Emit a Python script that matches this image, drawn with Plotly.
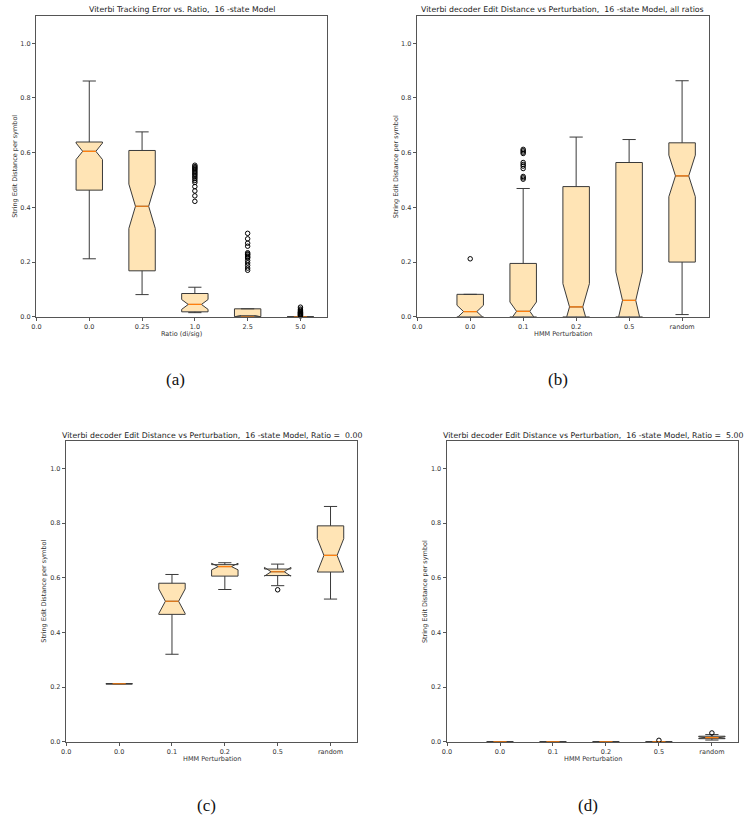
import plotly.graph_objects as go

# ---------------- data ----------------
a_labels = ["0.0", "0.0", "0.25", "1.0", "2.5", "5.0"]
p_labels = ["0.0", "0.0", "0.1", "0.2", "0.5", "random"]

a_q1 = [0.463, 0.168, 0.018, 0.0, 0.0]
a_med = [0.605, 0.404, 0.045, 0.0, 0.0]
a_q3 = [0.639, 0.608, 0.085, 0.029, 0.0]
a_lo = [0.212, 0.081, 0.015, 0.0, 0.0]
a_hi = [0.862, 0.676, 0.108, 0.029, 0.0]
a_notch = [0.03, 0.081, 0.018, 0.0, 0.0]
a_out = [[], [],
         [0.554, 0.549, 0.545, 0.541, 0.537, 0.532, 0.527, 0.522, 0.517, 0.511,
          0.505, 0.498, 0.491, 0.476, 0.46, 0.442, 0.422],
         [0.305, 0.285, 0.269, 0.258, 0.234, 0.23, 0.227, 0.222, 0.218, 0.215,
          0.206, 0.197, 0.188, 0.178, 0.17],
         [0.035, 0.028, 0.024, 0.02, 0.017, 0.015, 0.013, 0.011, 0.009, 0.007,
          0.005, 0.003]]

b_q1 = [0.0, 0.0, 0.0, 0.0, 0.2]
b_med = [0.019, 0.02, 0.036, 0.06, 0.515]
b_q3 = [0.082, 0.195, 0.476, 0.564, 0.636]
b_lo = [0.0, 0.0, 0.0, 0.0, 0.008]
b_hi = [0.082, 0.469, 0.657, 0.648, 0.863]
b_notch = [0.023, 0.034, 0.085, 0.104, 0.076]
b_out = [[0.212],
         [0.612, 0.607, 0.602, 0.597, 0.564, 0.557, 0.551, 0.542, 0.513, 0.508, 0.503],
         [], [], []]

c_q1 = [0.212, 0.466, 0.606, 0.608, 0.621]
c_med = [0.212, 0.514, 0.641, 0.622, 0.682]
c_q3 = [0.212, 0.58, 0.648, 0.632, 0.79]
c_lo = [0.212, 0.32, 0.557, 0.571, 0.522]
c_hi = [0.212, 0.612, 0.655, 0.65, 0.861]
c_notch = [0.0, 0.045, 0.012, 0.016, 0.061]
c_out = [[], [], [], [0.556], []]

d_q1 = [0.0, 0.0, 0.0, 0.0, 0.011]
d_med = [0.0, 0.0, 0.0, 0.0, 0.015]
d_q3 = [0.0, 0.0, 0.0, 0.0, 0.02]
d_lo = [0.0, 0.0, 0.0, 0.0, 0.006]
d_hi = [0.0, 0.0, 0.0, 0.0, 0.026]
d_notch = [0.0, 0.0, 0.0, 0.0, 0.003]
d_out = [[], [], [], [0.005], [0.032]]

titles = ["Viterbi Tracking Error vs. Ratio,  16 -state Model",
          "Viterbi decoder Edit Distance vs Perturbation,  16 -state Model, all ratios",
          "Viterbi decoder Edit Distance vs Perturbation,  16 -state Model, Ratio =  0.00",
          "Viterbi decoder Edit Distance vs Perturbation,  16 -state Model, Ratio =  5.00"]
xtitles = ["Ratio (di/sig)", "HMM Perturbation", "HMM Perturbation", "HMM Perturbation"]
ytitle = "String Edit Distance per symbol"
captions = ["(a)", "(b)", "(c)", "(d)"]

# ---------------- layout geometry (pixels) ----------------
W, H = 750, 826
panels = [
    dict(x0=31.7, x1=324.0, y0=16.0, y1=318.3, ylab=10.5, cap=(172, 381)),
    dict(x0=415.0, x1=708.3, y0=16.0, y1=318.3, ylab=393.5, cap=(557, 381)),
    dict(x0=61.7, x1=354.3, y0=443.3, y1=745.3, ylab=39.5, cap=(203, 809)),
    dict(x0=445.0, x1=738.3, y0=443.3, y1=745.3, ylab=423.5, cap=(587, 809)),
]
datasets = [
    (a_q1, a_med, a_q3, a_lo, a_hi, a_notch, a_out, a_labels),
    (b_q1, b_med, b_q3, b_lo, b_hi, b_notch, b_out, p_labels),
    (c_q1, c_med, c_q3, c_lo, c_hi, c_notch, c_out, p_labels),
    (d_q1, d_med, d_q3, d_lo, d_hi, d_notch, d_out, p_labels),
]

FILL = "#FFE4B5"
EDGE = "#3a3a3a"
MED = "#ff7f0e"
FONT = "DejaVu Sans"

fig = go.Figure()
annotations = []
layout = {}

for i, (pnl, ds) in enumerate(zip(panels, datasets)):
    q1, med, q3, lo, hi, notch, outs, labels = ds
    n = i + 1
    xa = "x" if n == 1 else f"x{n}"
    ya = "y" if n == 1 else f"y{n}"
    pos = list(range(1, len(q1) + 1))

    fig.add_trace(go.Box(
        x=pos, q1=q1, median=med, q3=q3, lowerfence=lo, upperfence=hi,
        notchspan=notch, notched=True, notchwidth=0.25, width=0.5,
        whiskerwidth=0.5, boxpoints=False, fillcolor=FILL,
        line=dict(color=EDGE, width=1), xaxis=xa, yaxis=ya,
        showlegend=False, hoverinfo="skip"))

    # median lines (orange)
    mx, my = [], []
    for p, m in zip(pos, med):
        mx += [p - 0.125, p + 0.125, None]
        my += [m, m, None]
    fig.add_trace(go.Scatter(x=mx, y=my, mode="lines",
                             line=dict(color=MED, width=1.2),
                             xaxis=xa, yaxis=ya, showlegend=False,
                             hoverinfo="skip"))

    # outliers
    ox, oy = [], []
    for p, o in zip(pos, outs):
        ox += [p] * len(o)
        oy += o
    if ox:
        fig.add_trace(go.Scatter(x=ox, y=oy, mode="markers",
                                 marker=dict(symbol="circle-open", size=4.5,
                                             color="black",
                                             line=dict(width=1, color="black")),
                                 xaxis=xa, yaxis=ya, showlegend=False,
                                 hoverinfo="skip", cliponaxis=False))

    xkey = "xaxis" if n == 1 else f"xaxis{n}"
    ykey = "yaxis" if n == 1 else f"yaxis{n}"
    layout[xkey] = dict(
        domain=[pnl["x0"] / W, pnl["x1"] / W], anchor=ya,
        range=[0, 5.5], tickmode="array",
        tickvals=list(range(0, len(labels))), ticktext=labels,
        showline=True, mirror=True, linecolor="#555", linewidth=1,
        ticks="outside", ticklen=3.5, tickcolor="#555", showgrid=False,
        zeroline=False, tickfont=dict(size=6.5, color="#333", family=FONT))
    layout[ykey] = dict(
        domain=[1 - pnl["y1"] / H, 1 - pnl["y0"] / H], anchor=xa,
        range=[0, 1.1], tickmode="array",
        tickvals=[0, 0.2, 0.4, 0.6, 0.8, 1.0],
        ticktext=["0.0", "0.2", "0.4", "0.6", "0.8", "1.0"],
        showline=True, mirror=True, linecolor="#555", linewidth=1,
        ticks="outside", ticklen=3.5, tickcolor="#555", showgrid=False,
        zeroline=False, tickfont=dict(size=6.5, color="#333", family=FONT))

    cx = (pnl["x0"] + pnl["x1"]) / 2 / W
    annotations.append(dict(text=titles[i], x=cx, y=1 - (pnl["y0"] - 6) / H,
                            xref="paper", yref="paper", showarrow=False,
                            xanchor="center", yanchor="middle",
                            font=dict(size=7.8, color="#222", family=FONT)))
    annotations.append(dict(text=xtitles[i], x=cx, y=1 - (pnl["y1"] + 17.5) / H,
                            xref="paper", yref="paper", showarrow=False,
                            xanchor="center", yanchor="middle",
                            font=dict(size=6.5, color="#333", family=FONT)))
    annotations.append(dict(text=ytitle, x=pnl["ylab"] / W,
                            y=1 - (pnl["y0"] + pnl["y1"]) / 2 / H,
                            xref="paper", yref="paper", showarrow=False,
                            textangle=-90, xanchor="center", yanchor="middle",
                            font=dict(size=6.5, color="#333", family=FONT)))
    annotations.append(dict(text=captions[i], x=pnl["cap"][0] / W,
                            y=1 - pnl["cap"][1] / H,
                            xref="paper", yref="paper", showarrow=False,
                            xanchor="center", yanchor="middle",
                            font=dict(size=17, color="#111",
                                      family="Liberation Serif")))

fig.update_layout(
    width=W, height=H, margin=dict(l=0, r=0, t=0, b=0),
    paper_bgcolor="white", plot_bgcolor="white",
    annotations=annotations, boxgap=0, boxgroupgap=0, **layout)

fig.write_html("out.html")
